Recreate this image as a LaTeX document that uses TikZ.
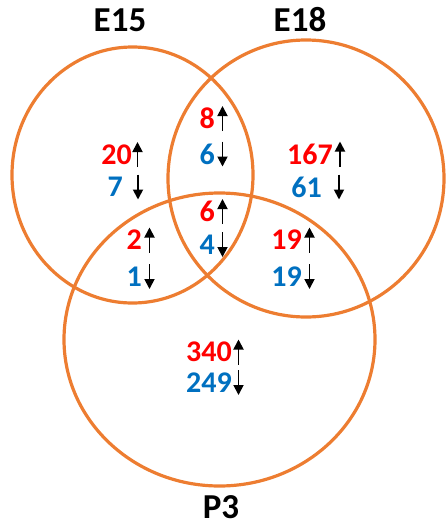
\documentclass[tikz,border=0pt]{standalone}
\usepackage{fontspec}
\setmainfont{Carlito}
\usetikzlibrary{arrows.meta}
\definecolor{vorange}{RGB}{237,125,49}
\definecolor{vred}{RGB}{255,0,0}
\definecolor{vblue}{RGB}{0,112,192}
\begin{document}
\begin{tikzpicture}[x=1pt,y=-1pt,
  setring/.style={draw=vorange,line width=3.2pt},
  title/.style={font=\fontsize{35}{40}\selectfont\bfseries,inner sep=0pt},
  up/.style={font=\fontsize{30}{34}\selectfont\bfseries,text=vred,inner sep=0pt,anchor=east},
  down/.style={font=\fontsize{30}{34}\selectfont\bfseries,text=vblue,inner sep=0pt,anchor=east},
  arr/.style={draw=black,line width=1.8pt,-{Triangle[width=10pt,length=10pt]}}]
\useasboundingbox (0,0) rectangle (445,528);
\draw[setring] (132.5,175) ellipse [x radius=120.5, y radius=128];
\draw[setring] (306,178.5) ellipse [x radius=138, y radius=138.5];
\draw[setring] (219.5,339.5) ellipse [x radius=155.5, y radius=146.5];
\node[title] (tE15) at (120,20) {E15};
\node[title] (tE18) at (300,20) {E18};
\node[title] (tP3) at (221,507) {P3};
\node[up] (a1) at (132,154.5) {20};
\node[down] (b1) at (123,187) {7};
\node[up] (a2) at (215,118.5) {8};
\node[down] (b2) at (215,154) {6};
\node[up] (a3) at (215,211.5) {6};
\node[down] (b3) at (215,244.5) {4};
\node[up] (a4) at (333,154) {167};
\node[down] (b4) at (322,187) {61};
\node[up] (a5) at (142,240) {2};
\node[down] (b5) at (142,276.5) {1};
\node[up] (a6) at (302,240) {19};
\node[down] (b6) at (302,276.5) {19};
\node[up] (a7) at (232,352) {340};
\node[down] (b7) at (232,382.5) {249};
\foreach \n/\d in {a1/5.5,a2/7.5,a3/7.5,a4/7,a5/7.5,a6/7.5,a7/6.5}
  \draw[arr] ([xshift=\d pt,yshift=-12.5pt]\n.east) -- ([xshift=\d pt,yshift=12.5pt]\n.east);
\foreach \n/\d in {b1/15,b2/7.5,b3/7.5,b4/17,b5/7.5,b6/7.5,b7/6.5}
  \draw[arr] ([xshift=\d pt,yshift=12.5pt]\n.east) -- ([xshift=\d pt,yshift=-12.5pt]\n.east);
\end{tikzpicture}
\end{document}
